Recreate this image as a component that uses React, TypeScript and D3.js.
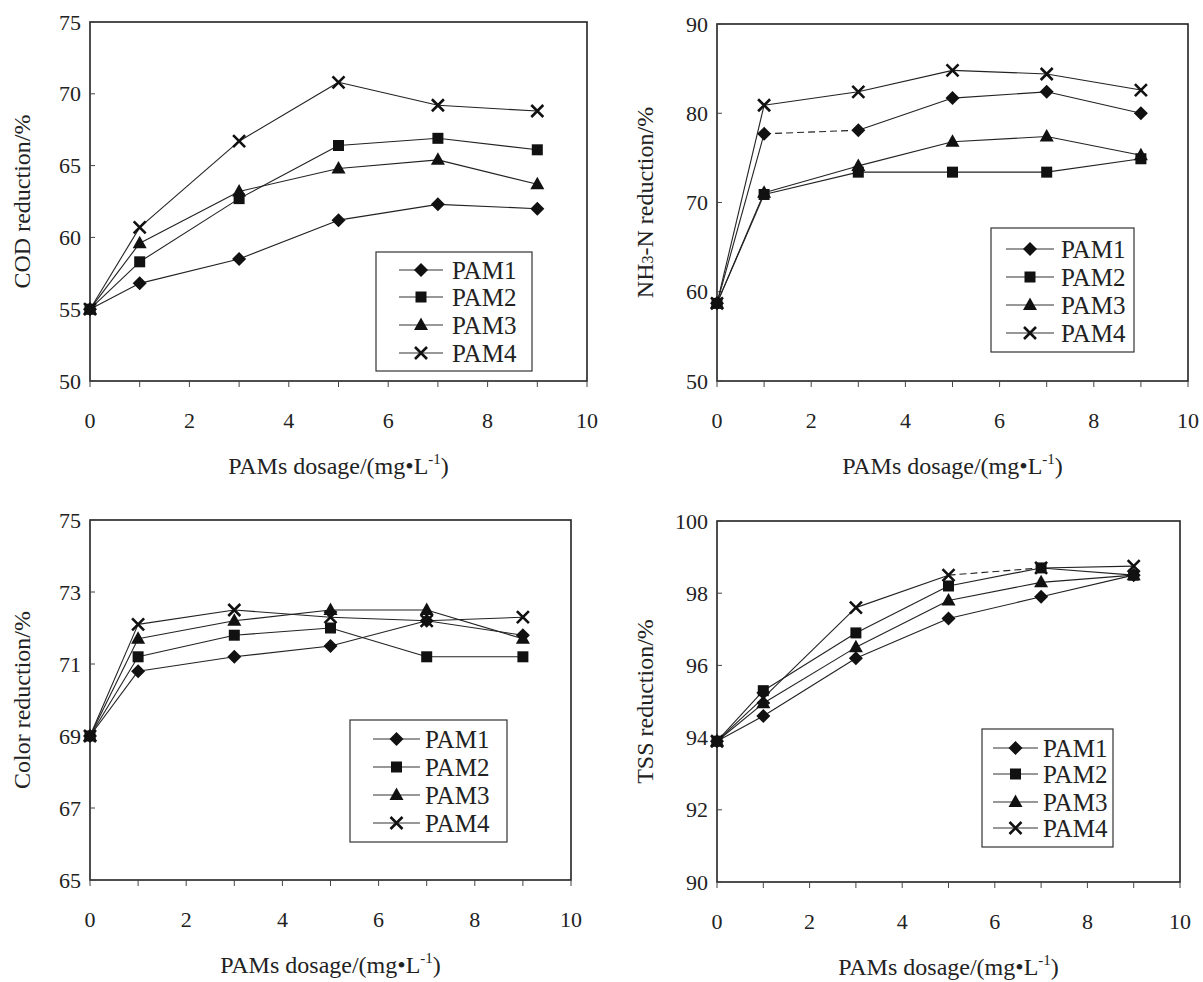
import React, { useEffect, useRef } from "react";
import * as d3 from "d3";

// dosage values (mg/L) where samples were taken
const doses = [0, 1, 3, 5, 7, 9];
const seriesNames = ["PAM1", "PAM2", "PAM3", "PAM4"];
const xTickLabels = [0, 2, 4, 6, 8, 10];

// COD reduction, %
const codPam1 = [55, 56.8, 58.5, 61.2, 62.3, 62.0];
const codPam2 = [55, 58.3, 62.7, 66.4, 66.9, 66.1];
const codPam3 = [55, 59.6, 63.2, 64.8, 65.4, 63.7];
const codPam4 = [55, 60.7, 66.7, 70.8, 69.2, 68.8];

// NH3-N reduction, %
const nhPam1 = [58.7, 77.7, 78.1, 81.7, 82.4, 80.0];
const nhPam2 = [58.7, 70.9, 73.4, 73.4, 73.4, 74.9];
const nhPam3 = [58.7, 71.1, 74.1, 76.8, 77.4, 75.3];
const nhPam4 = [58.7, 80.9, 82.4, 84.8, 84.4, 82.6];

// Color reduction, %
const colorPam1 = [69, 70.8, 71.2, 71.5, 72.2, 71.8];
const colorPam2 = [69, 71.2, 71.8, 72.0, 71.2, 71.2];
const colorPam3 = [69, 71.7, 72.2, 72.5, 72.5, 71.7];
const colorPam4 = [69, 72.1, 72.5, 72.3, 72.2, 72.3];

// TSS reduction, %
const tssPam1 = [93.9, 94.6, 96.2, 97.3, 97.9, 98.5];
const tssPam2 = [93.9, 95.3, 96.9, 98.2, 98.7, 98.5];
const tssPam3 = [93.9, 94.95, 96.5, 97.8, 98.3, 98.5];
const tssPam4 = [93.9, 95.1, 97.6, 98.5, 98.7, 98.75];

const FONT = "'Liberation Serif', 'Times New Roman', serif";

const panels = [
  {
    box: { l: 90, t: 22, r: 587, b: 381 },
    yDomain: [50, 75], yTicks: [50, 55, 60, 65, 70, 75],
    title: ["COD reduction/%"], titleX: 30,
    series: [codPam1, codPam2, codPam3, codPam4],
    dashed: [] as number[][],
    legend: { x: 376, y: 252, w: 156, h: 119, rows: [270, 297, 325, 353], l0: 399, l1: 443, tx: 452 }
  },
  {
    box: { l: 717, t: 24, r: 1188, b: 381 },
    yDomain: [50, 90], yTicks: [50, 60, 70, 80, 90],
    title: ["NH", "3", "-N reduction/%"], titleX: 653,
    series: [nhPam1, nhPam2, nhPam3, nhPam4],
    dashed: [[0, 1]],
    legend: { x: 991, y: 228, w: 143, h: 124, rows: [249, 277, 305, 333], l0: 1006, l1: 1054, tx: 1061 }
  },
  {
    box: { l: 90, t: 520, r: 571, b: 880 },
    yDomain: [65, 75], yTicks: [65, 67, 69, 71, 73, 75],
    title: ["Color reduction/%"], titleX: 30,
    series: [colorPam1, colorPam2, colorPam3, colorPam4],
    dashed: [] as number[][],
    legend: { x: 350, y: 720, w: 157, h: 122, rows: [739, 767, 795, 823], l0: 373, l1: 420, tx: 425 }
  },
  {
    box: { l: 717, t: 521, r: 1180, b: 882 },
    yDomain: [90, 100], yTicks: [90, 92, 94, 96, 98, 100],
    title: ["TSS reduction/%"], titleX: 653,
    series: [tssPam1, tssPam2, tssPam3, tssPam4],
    dashed: [[3, 3]],
    legend: { x: 982, y: 729, w: 131, h: 118, rows: [748, 774, 802, 828], l0: 993, l1: 1038, tx: 1043 }
  }
];

function drawMarker(g: any, kind: number, x: number, y: number) {
  if (kind === 0) {
    g.append("path").attr("d", `M${x},${y - 7}L${x + 7},${y}L${x},${y + 7}L${x - 7},${y}Z`).attr("fill", "#111");
  } else if (kind === 1) {
    g.append("rect").attr("x", x - 5.5).attr("y", y - 5.5).attr("width", 11).attr("height", 11).attr("fill", "#111");
  } else if (kind === 2) {
    g.append("path").attr("d", `M${x},${y - 7.5}L${x + 7},${y + 5}L${x - 7},${y + 5}Z`).attr("fill", "#111");
  } else {
    const s = 6;
    g.append("path")
      .attr("d", `M${x - s},${y - s}L${x + s},${y + s}M${x - s},${y + s}L${x + s},${y - s}`)
      .attr("stroke", "#111").attr("stroke-width", 2.6).attr("fill", "none");
  }
}

export default function App() {
  const ref = useRef<SVGSVGElement>(null);

  useEffect(() => {
    const svg = d3.select(ref.current);
    svg.selectAll("*").remove();

    panels.forEach((p) => {
      const g = svg.append("g");
      const x = d3.scaleLinear().domain([0, 10]).range([p.box.l, p.box.r]);
      const y = d3.scaleLinear().domain(p.yDomain).range([p.box.b, p.box.t]);

      g.append("rect")
        .attr("x", p.box.l).attr("y", p.box.t)
        .attr("width", p.box.r - p.box.l).attr("height", p.box.b - p.box.t)
        .attr("fill", "white").attr("stroke", "#222").attr("stroke-width", 1.6);

      // x ticks every 1 unit, outward
      d3.range(0, 11).forEach((v) => {
        g.append("line")
          .attr("x1", x(v)).attr("x2", x(v))
          .attr("y1", p.box.b).attr("y2", p.box.b + 6)
          .attr("stroke", "#444").attr("stroke-width", 1);
      });
      xTickLabels.forEach((v) => {
        g.append("text")
          .attr("x", x(v)).attr("y", p.box.b + 47)
          .attr("text-anchor", "middle")
          .attr("font-family", FONT).attr("font-size", 22).attr("fill", "#222")
          .text(v);
      });

      // y ticks inward
      p.yTicks.forEach((v) => {
        g.append("line")
          .attr("x1", p.box.l).attr("x2", p.box.l + 5)
          .attr("y1", y(v)).attr("y2", y(v))
          .attr("stroke", "#444").attr("stroke-width", 1);
        g.append("text")
          .attr("x", p.box.l - 9).attr("y", y(v) + 7.5)
          .attr("text-anchor", "end")
          .attr("font-family", FONT).attr("font-size", 22).attr("fill", "#222")
          .text(v);
      });

      // y title
      const cy = (p.box.t + p.box.b) / 2;
      const yt = g.append("text")
        .attr("transform", `translate(${p.titleX},${cy}) rotate(-90)`)
        .attr("text-anchor", "middle")
        .attr("font-family", FONT).attr("font-size", 24).attr("fill", "#222");
      if (p.title.length === 1) {
        yt.text(p.title[0]);
      } else {
        yt.append("tspan").text(p.title[0]);
        yt.append("tspan").attr("font-size", 16).text(p.title[1]);
        yt.append("tspan").text(p.title[2]);
      }

      // x title
      const xt = g.append("text")
        .attr("x", (p.box.l + p.box.r) / 2).attr("y", p.box.b + 93)
        .attr("text-anchor", "middle")
        .attr("font-family", FONT).attr("font-size", 24).attr("fill", "#222");
      xt.append("tspan").text("PAMs dosage/(mg•L");
      xt.append("tspan").attr("font-size", 15).attr("dy", -10).text("-1");
      xt.append("tspan").attr("dy", 10).text(")");

      // series lines
      p.series.forEach((vals, si) => {
        for (let i = 0; i < vals.length - 1; i++) {
          const isDashed = p.dashed.some((d) => d[0] === si && d[1] === i);
          g.append("line")
            .attr("x1", x(doses[i])).attr("y1", y(vals[i]))
            .attr("x2", x(doses[i + 1])).attr("y2", y(vals[i + 1]))
            .attr("stroke", "#222").attr("stroke-width", 1.1)
            .attr("stroke-dasharray", isDashed ? "7,4" : null);
        }
      });
      p.series.forEach((vals, si) => {
        vals.forEach((v, i) => drawMarker(g, si, x(doses[i]), y(v)));
      });

      // legend
      const L = p.legend;
      g.append("rect")
        .attr("x", L.x).attr("y", L.y).attr("width", L.w).attr("height", L.h)
        .attr("fill", "white").attr("stroke", "#333").attr("stroke-width", 1.2);
      seriesNames.forEach((name, si) => {
        const ry = L.rows[si];
        g.append("line")
          .attr("x1", L.l0).attr("x2", L.l1).attr("y1", ry).attr("y2", ry)
          .attr("stroke", "#333").attr("stroke-width", 1.1);
        drawMarker(g, si, (L.l0 + L.l1) / 2, ry);
        g.append("text")
          .attr("x", L.tx).attr("y", ry + 8.5)
          .attr("font-family", FONT).attr("font-size", 25).attr("fill", "#222")
          .text(name);
      });
    });
  }, []);

  return (
    <svg
      ref={ref}
      width={1203}
      height={982}
      style={{ position: "absolute", left: 0, top: 0, display: "block", background: "white" }}
    ></svg>
  );
}
